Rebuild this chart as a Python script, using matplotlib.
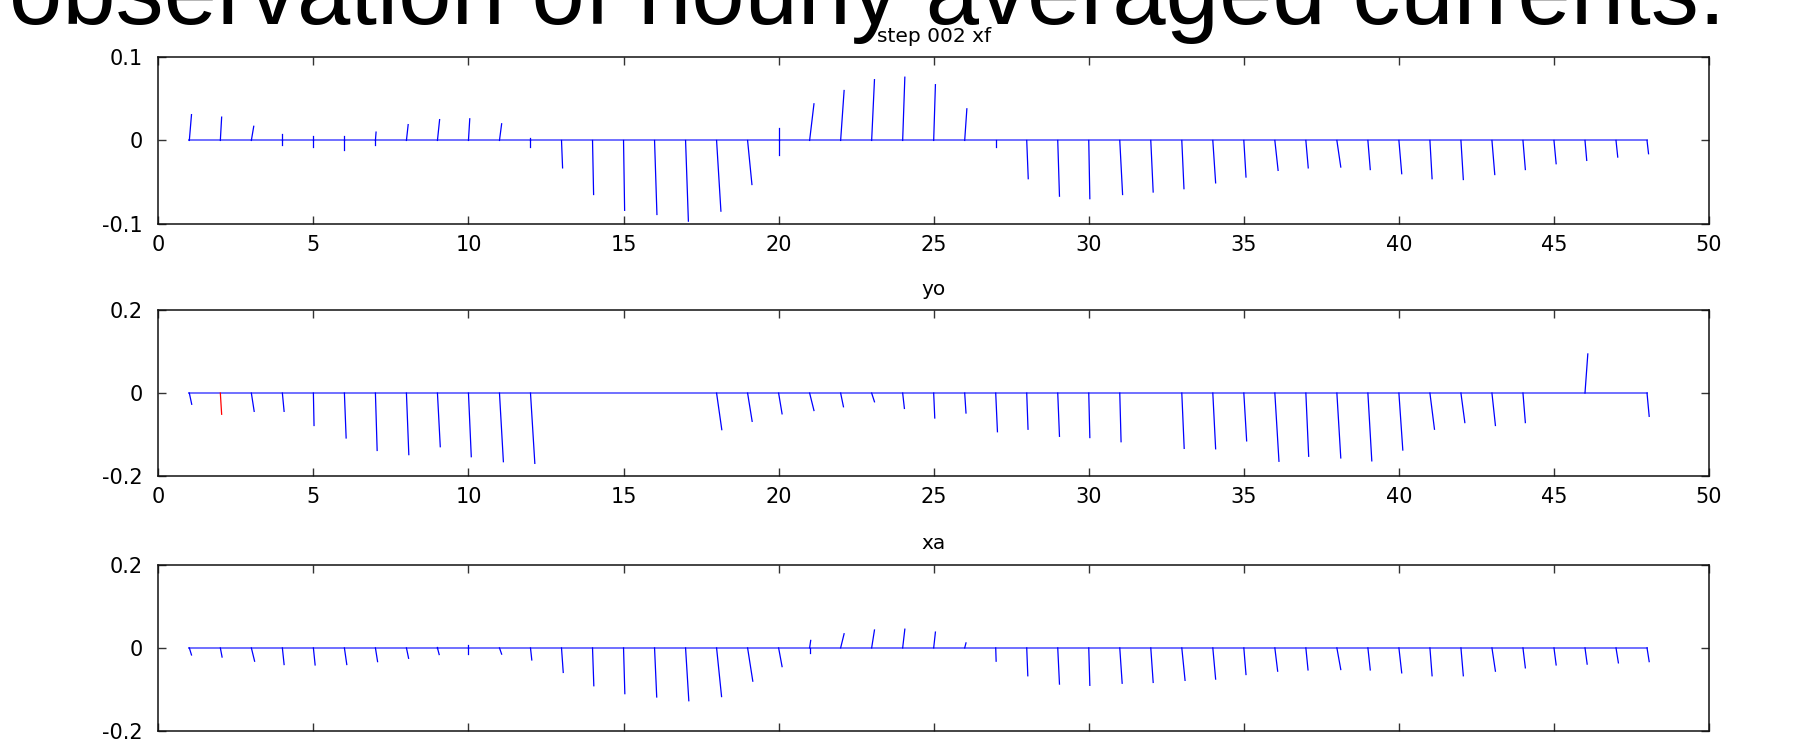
import numpy as np
import matplotlib
matplotlib.use("Agg")
import matplotlib.pyplot as plt

plt.rcParams['font.family'] = ['DejaVu Sans']
plt.rcParams['axes.unicode_minus'] = False

hours = np.arange(1, 49)

# forecast (xf): tip of each stick (v) and small eastward offset of the tip (u, in hours)
xf_v = [0.031, 0.028, 0.017, 0.008, -0.008, -0.011, 0.010, 0.019, 0.025, 0.026,
        0.020, -0.008, -0.033, -0.065, -0.084, -0.089, -0.097, -0.085, -0.053, -0.017,
        0.044, 0.060, 0.073, 0.076, 0.067, 0.038, -0.008, -0.046, -0.067, -0.070,
        -0.065, -0.062, -0.058, -0.051, -0.044, -0.036, -0.033, -0.032, -0.035, -0.040,
        -0.046, -0.047, -0.041, -0.035, -0.028, -0.024, -0.020, -0.016]
xf_u = [0.10, 0.06, 0.11, 0.0, 0.0, 0.0, 0.03, 0.08, 0.10, 0.06,
        0.10, 0.0, 0.05, 0.05, 0.05, 0.11, 0.13, 0.20, 0.20, 0.0,
        0.20, 0.16, 0.13, 0.10, 0.08, 0.10, 0.0, 0.07, 0.08, 0.05,
        0.13, 0.11, 0.10, 0.13, 0.10, 0.15, 0.11, 0.18, 0.11, 0.13,
        0.10, 0.11, 0.13, 0.11, 0.10, 0.08, 0.08, 0.07]
# part of the profile pointing the other way
xf_back = [0, 0, 0, -0.006, 0.005, 0.005, -0.006, 0, 0, 0,
           0, 0.003, 0, 0, 0, 0, 0, 0, 0, 0.015,
           0, 0, 0, 0, 0, 0, 0, 0, 0, 0,
           0, 0, 0, 0, 0, 0, 0, 0, 0, 0,
           0, 0, 0, 0, 0, 0, 0, 0]

# observations (yo), nan = no observation that hour
nan = np.nan
yo_v = [-0.027, -0.051, -0.044, -0.044, -0.078, -0.108, -0.138, -0.148, -0.129, -0.153,
        -0.165, -0.169, nan, nan, nan, nan, nan, -0.088, -0.068, -0.050,
        -0.042, -0.033, -0.021, -0.037, -0.060, -0.048, -0.093, -0.087, -0.104, -0.107,
        -0.117, nan, -0.133, -0.134, -0.115, -0.164, -0.152, -0.156, -0.163, -0.137,
        -0.087, -0.071, -0.078, -0.071, nan, 0.094, nan, -0.056]
yo_u = [0.11, 0.06, 0.13, 0.08, 0.03, 0.08, 0.08, 0.11, 0.13, 0.13,
        0.18, 0.20, 0, 0, 0, 0, 0, 0.24, 0.21, 0.16,
        0.20, 0.13, 0.13, 0.08, 0.05, 0.06, 0.08, 0.06, 0.08, 0.05,
        0.06, 0, 0.11, 0.13, 0.13, 0.19, 0.13, 0.18, 0.18, 0.18,
        0.21, 0.18, 0.16, 0.11, 0, 0.13, 0, 0.10]
yo_flagged = [2]

# analysis (xa)
xa_v = [-0.017, -0.022, -0.032, -0.040, -0.041, -0.040, -0.033, -0.025, -0.016, -0.014,
        -0.015, -0.029, -0.059, -0.091, -0.110, -0.118, -0.127, -0.117, -0.080, -0.045,
        0.018, 0.034, 0.043, 0.045, 0.038, 0.012, -0.032, -0.067, -0.087, -0.090,
        -0.085, -0.083, -0.078, -0.075, -0.064, -0.056, -0.053, -0.052, -0.053, -0.060,
        -0.067, -0.067, -0.056, -0.048, -0.041, -0.039, -0.036, -0.033]
xa_u = [0.10, 0.08, 0.15, 0.08, 0.08, 0.11, 0.10, 0.10, 0.08, 0.0,
        0.10, 0.06, 0.08, 0.06, 0.06, 0.10, 0.15, 0.23, 0.24, 0.16,
        0.05, 0.16, 0.13, 0.10, 0.08, 0.06, 0.02, 0.05, 0.08, 0.05,
        0.11, 0.11, 0.15, 0.13, 0.10, 0.13, 0.10, 0.18, 0.11, 0.13,
        0.10, 0.11, 0.16, 0.11, 0.10, 0.10, 0.11, 0.10]
xa_back = [0] * 48
xa_back[8] = 0.002
xa_back[9] = 0.006
xa_back[20] = -0.013

STICK = '#0000ff'
BASE = '#7070ff'
U_SCALE = 0.7  # sticks look mostly upright


def stickplot(ax, v, u, back=None, flagged=()):
    ax.plot([hours[0], hours[-1]], [0, 0], color=BASE, lw=1.4, zorder=2)
    for i, t in enumerate(hours):
        if np.isnan(v[i]):
            continue
        c = 'red' if t in flagged else STICK
        ax.plot([t, t + U_SCALE * u[i]], [0, v[i]], color=c, lw=0.9, zorder=3)
        if back is not None and back[i] != 0:
            ax.plot([t, t], [0, back[i]], color=c, lw=0.9, zorder=3)


fig = plt.figure(figsize=(17.99, 7.43), dpi=100)
L, W, H = 0.088, 0.862, 0.224
axs = [fig.add_axes([L, 0.699, W, H]),
       fig.add_axes([L, 0.359, W, H]),
       fig.add_axes([L, 0.016, W, H])]

stickplot(axs[0], xf_v, xf_u, xf_back)
stickplot(axs[1], yo_v, yo_u, flagged=yo_flagged)
stickplot(axs[2], xa_v, xa_u, xa_back)

titles = ['step 002 xf', 'yo', 'xa']
lims = [0.1, 0.2, 0.2]
for ax, ttl, lim in zip(axs, titles, lims):
    ax.set_xlim(0, 50)
    ax.set_ylim(-lim, lim)
    ax.set_xticks(range(0, 51, 5))
    ax.set_yticks([-lim, 0, lim])
    ax.set_yticklabels(['%g' % -lim, '0', '%g' % lim])
    ax.tick_params(direction='in', top=True, right=True, length=6, width=1,
                   color='#333333', labelsize=15)
    ax.tick_params(axis='y', pad=11)
    ax.tick_params(axis='x', pad=8)
    for s in ax.spines.values():
        s.set_linewidth(1.1)
        s.set_color('#111111')
    ax.set_title(ttl, fontsize=14.5, pad=11)
axs[2].tick_params(labelbottom=False)

fig.text(0.482, 0.968, 'observation of hourly averaged currents.', fontsize=69,
         family='Liberation Sans', ha='center', va='baseline')

fig.savefig('out.png', dpi=100)
